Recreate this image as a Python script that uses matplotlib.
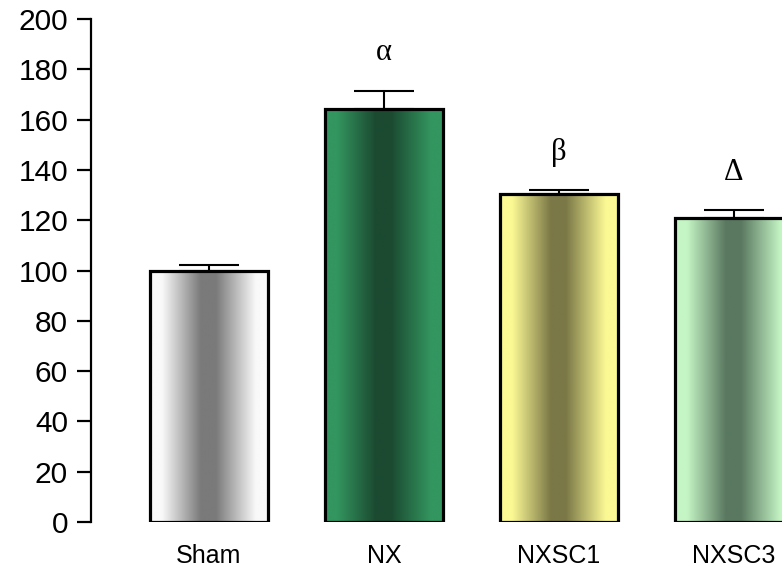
import matplotlib
matplotlib.use("Agg")
import matplotlib.pyplot as plt
import numpy as np
from matplotlib.colors import to_rgb

groups = ["Sham", "NX", "NXSC1", "NXSC3"]
means = [100.0, 164.3, 130.4, 120.8]
sems = [2.2, 7.2, 1.5, 3.1]
marks = ["", "α", "β", "Δ"]

# light edge colour / dark centre colour of each bar
light = ["#f9f9f9", "#33955f", "#fbf994", "#c5f5c5"]
dark = ["#7a7a7a", "#1b4a31", "#7b7847", "#5a7860"]

plt.rcParams["font.family"] = ["Liberation Sans", "DejaVu Sans"]

fig = plt.figure(figsize=(7.82, 5.71), dpi=100)
ax = fig.add_axes([91 / 782, 49 / 571, 748 / 782, 503 / 571])

x = np.arange(len(groups))
width = 0.674

# horizontal shading: light -> dark -> light
stops = [0.0, 0.1, 0.43, 0.56, 0.9, 1.0]
level = [0.0, 0.0, 1.0, 1.0, 0.0, 0.0]
u = np.linspace(0, 1, 200)
t = np.interp(u, stops, level)

for xi, m, lo, hi in zip(x, means, light, dark):
	c0 = np.array(to_rgb(lo))
	c1 = np.array(to_rgb(hi))
	grad = (1 - t)[:, None] * c0 + t[:, None] * c1
	img = np.tile(grad[None, :, :], (2, 1, 1))
	ax.imshow(img, extent=(xi - width / 2, xi + width / 2, 0, m),
		aspect="auto", interpolation="bilinear", zorder=1)

ax.bar(x, means, width=width, fill=False, edgecolor="black", linewidth=2.3, zorder=3)
ax.errorbar(x, means, yerr=[np.zeros(len(sems)), sems], fmt="none",
	ecolor="black", elinewidth=1.5, capsize=21.5, capthick=1.5, zorder=2)

for xi, m, s, lab in zip(x, means, sems, marks):
	if lab:
		ax.text(xi, m + s + 15, lab, ha="center", va="center",
			fontsize=22, family=["Liberation Serif", "DejaVu Serif"])

ax.set_xlim(-width, 3.6)
ax.set_ylim(0, 200)
ax.set_yticks(np.arange(0, 201, 20))
ax.set_xticks(x)
ax.set_xticklabels(groups)

for side in ["top", "right", "bottom"]:
	ax.spines[side].set_visible(False)
ax.spines["left"].set_linewidth(1.6)
ax.tick_params(axis="y", length=10, width=1.6, pad=6.5, labelsize=21.5)
ax.tick_params(axis="x", length=0, pad=16, labelsize=18)

fig.savefig("out.png", dpi=100)
